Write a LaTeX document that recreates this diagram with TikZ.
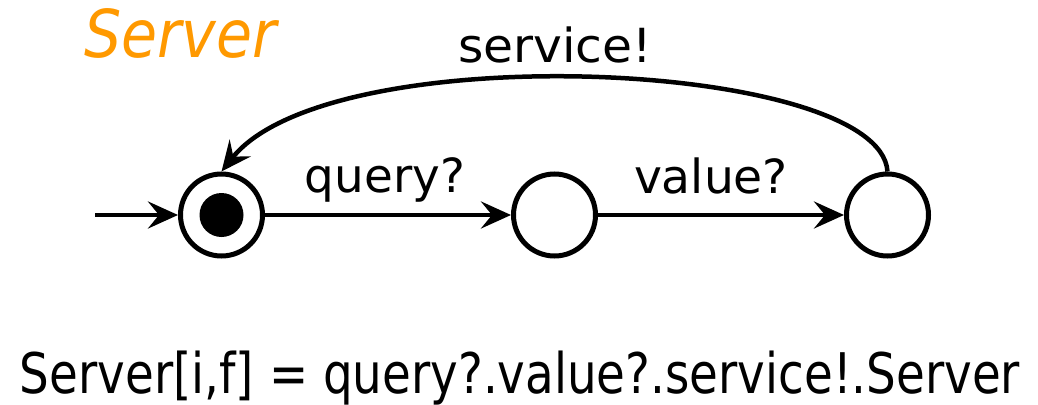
\documentclass[tikz,border=0pt]{standalone}
\usepackage{fontspec}
\setmainfont{DejaVu Sans}
\usepackage{graphicx}
\usetikzlibrary{arrows.meta}
\definecolor{procorange}{RGB}{255,153,0}
\newcommand{\fitw}[2]{\resizebox{#1}{\height}{#2}}
\begin{document}
\begin{tikzpicture}[x=1pt,y=-1pt,
  state/.style={circle,draw,line width=5pt,minimum size=82pt,inner sep=0pt},
  trans/.style={line width=4.5pt,-{Stealth[length=30pt,width=27pt,inset=11pt]}},
  lbl/.style={inner sep=0pt,anchor=base,font=\fontsize{47}{50}\selectfont}]
  \useasboundingbox (0,0) rectangle (1038,404);

  % process name
  \node[inner sep=0pt,anchor=base west,text=procorange,
        font=\fontsize{66}{70}\selectfont\itshape] (title) at (84,58) {\fitw{192pt}{Server}};

  % states
  \node[state] (s0) at (221.5,215) {};
  \node[state] (s1) at (554.5,215) {};
  \node[state] (s2) at (887.5,215) {};
  \fill (s0.center) circle[radius=22pt];

  % initial marker
  \coordinate (init) at (95,215);
  \draw[trans] (init) -- (s0.west);

  % transitions
  \draw[trans] (s0) -- (s1);
  \draw[trans] (s1) -- (s2);
  \draw[trans] (s2.north) .. controls (880,60) and (330,35) .. (s0.north);

  % labels
  \node[lbl] (lq) at (385,192) {\fitw{160pt}{query?}};
  \node[lbl] (lv) at (711,193) {\fitw{154pt}{value?}};
  \node[lbl] (ls) at (555,62) {\fitw{194pt}{service!}};

  % process equation
  \node[inner sep=0pt,anchor=base,font=\fontsize{56}{60}\selectfont] (eq) at (520,393)
    {\fitw{1000pt}{Server[i,f] = query?.value?.service!.Server}};
\end{tikzpicture}
\end{document}
